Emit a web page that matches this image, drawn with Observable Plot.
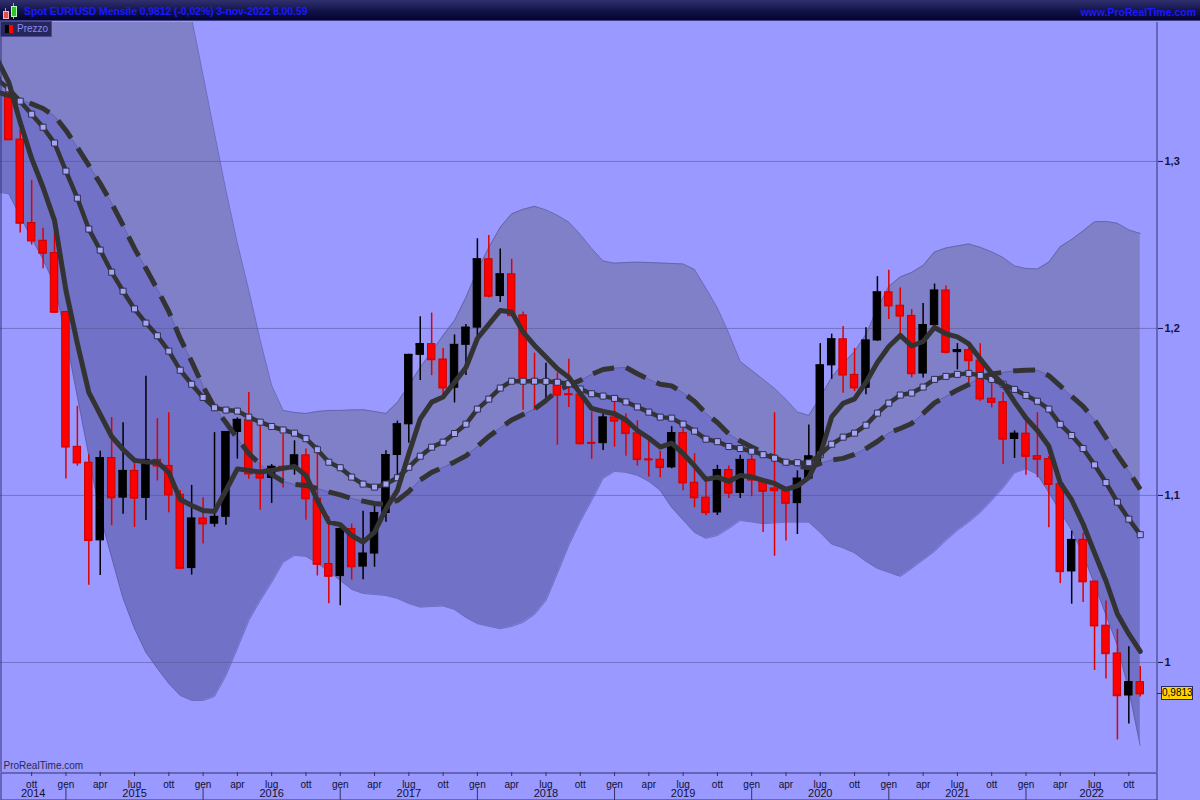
<!DOCTYPE html>
<html><head><meta charset="utf-8">
<script src="https://cdn.jsdelivr.net/npm/d3@7"></script>
<script src="https://cdn.jsdelivr.net/npm/@observablehq/plot@0.6"></script>
<style>
html,body{margin:0;padding:0;background:#9999ff;width:1200px;height:800px;overflow:hidden;font-family:"Liberation Sans",Arial,sans-serif}
#page{position:relative;width:1200px;height:800px}
#titlebar{position:absolute;left:0;top:0;width:1200px;height:20px;background:linear-gradient(#30306e,#12124a 55%,#03032a);border-bottom:1px solid #3c3c8c}
#title{position:absolute;left:24px;top:5px;font:bold 10.5px "Liberation Sans",Arial,sans-serif;color:#1a1aff;white-space:nowrap;letter-spacing:-0.1px}
#site{position:absolute;right:4px;top:6px;font:bold 10.5px "Liberation Sans",Arial,sans-serif;color:#1a1aff}
.ic{position:absolute}
#main{position:absolute;left:0;top:21px}
#axis{position:absolute;left:0;top:772px}
#legend{position:absolute;left:0;top:21px;width:52px;height:16px;background:#27275c;border:1px solid #4a4a92;box-sizing:border-box}
#legend span{position:absolute;left:16px;top:1px;font:10px "Liberation Sans",Arial,sans-serif;color:#8a8af2}
#price{position:absolute;left:1161px;width:30px;height:12px;background:#ffd400;border:1px solid #2a2a60;font:10px "Liberation Sans",Arial,sans-serif;color:#000;text-align:center;line-height:12px}
#ptick{position:absolute;left:1157px;width:4px;height:1px;background:#2a2a60}
svg g[aria-label^="y-axis"] text{font-weight:bold}
</style></head>
<body><div id="page">
<div id="titlebar">
  <div class="ic" style="left:5px;top:8px;width:1px;height:4px;background:#f08080"></div>
  <div class="ic" style="left:3px;top:11px;width:4px;height:6px;background:#e05050;border:1px solid #ffb0b0"></div>
  <div class="ic" style="left:13px;top:3px;width:1px;height:16px;background:#50e050"></div>
  <div class="ic" style="left:11px;top:6px;width:4px;height:9px;background:#30c030;border:1px solid #b0ffb0"></div>
  <div id="title"></div>
  <div id="site">www.ProRealTime.com</div>
</div>
<div id="main"></div>
<div id="axis"></div>
<div id="legend"><div class="ic" style="left:4px;top:3px;width:4px;height:8px;background:#000"></div><div class="ic" style="left:8px;top:3px;width:4px;height:8px;background:#ff0000"></div><span>Prezzo</span></div>
<div id="ptick"></div><div id="price"></div>
</div>
<script>
// ---- Data (monthly EUR/USD), candles from Aug 2014 to Nov 2022 ----
const titleText = "Spot EUR/USD Mensile 0,9812 (-0,02%) 3-nov-2022 8.00.59";
const monthNames = ["gen","feb","mar","apr","mag","giu","lug","ago","set","ott","nov","dic"];
const firstYear = 2014, firstMonth = 7; // Aug 2014
const yTicks = [1.0, 1.1, 1.2, 1.3];

const open = [1.3388,1.3131,1.2631,1.2525,1.2451,
 1.2098,1.1291,1.1196,1.0731,1.1224,1.0987,1.1147,1.0985,1.1213,1.1177,1.1004,1.0565,
 1.0862,1.0831,1.0872,1.1380,1.1453,1.1130,1.1105,1.1172,1.1157,1.1240,1.0981,1.0589,
 1.0517,1.0798,1.0574,1.0652,1.0895,1.1242,1.1426,1.1842,1.1906,1.1814,1.1645,1.1902,
 1.2005,1.2414,1.2194,1.2324,1.2078,1.1693,1.1684,1.1690,1.1606,1.1604,1.1315,1.1313,
 1.1467,1.1446,1.1372,1.1216,1.1214,1.1168,1.1373,1.1076,1.0987,1.0898,1.1152,1.1015,
 1.1213,1.1093,1.1042,1.1030,1.0954,1.1101,1.1234,1.1779,1.1935,1.1722,1.1645,1.1928,
 1.2216,1.2136,1.2075,1.1730,1.2020,1.2227,1.1858,1.1870,1.1808,1.1579,1.1558,1.1338,
 1.1370,1.1235,1.1218,1.1067,1.0545,1.0734,1.0484,1.0220,1.0054,0.9802,0.9882];
const high = [1.3444,1.3190,1.2887,1.2600,1.2570,
 1.2103,1.1534,1.1244,1.1265,1.1467,1.1436,1.1215,1.1714,1.1460,1.1495,1.1030,1.1060,
 1.0986,1.1376,1.1383,1.1464,1.1616,1.1428,1.1185,1.1366,1.1327,1.1278,1.1300,1.0874,
 1.0829,1.0829,1.0906,1.0955,1.1268,1.1445,1.1846,1.2070,1.2092,1.1880,1.1961,1.2023,
 1.2537,1.2556,1.2476,1.2414,1.2098,1.1852,1.1791,1.1734,1.1815,1.1625,1.1500,1.1486,
 1.1570,1.1489,1.1448,1.1324,1.1265,1.1412,1.1412,1.1250,1.1110,1.1180,1.1176,1.1240,
 1.1240,1.1096,1.1495,1.1039,1.1147,1.1422,1.1909,1.1966,1.2011,1.1881,1.2004,1.2310,
 1.2349,1.2243,1.2113,1.2150,1.2266,1.2254,1.1909,1.1909,1.1909,1.1692,1.1616,1.1386,
 1.1483,1.1495,1.1233,1.1076,1.0786,1.0773,1.0486,1.0368,1.0198,1.0094,0.9976];
const low = [1.3130,1.2571,1.2500,1.2358,1.2090,
 1.1098,1.1175,1.0462,1.0520,1.0819,1.0888,1.0809,1.0850,1.1087,1.0896,1.0558,1.0523,
 1.0710,1.0810,1.0822,1.1218,1.1097,1.0912,1.0952,1.1045,1.1122,1.0852,1.0518,1.0352,
 1.0340,1.0493,1.0495,1.0570,1.0840,1.1118,1.1313,1.1688,1.1717,1.1575,1.1554,1.1718,
 1.1916,1.2182,1.2155,1.2074,1.1510,1.1508,1.1575,1.1301,1.1526,1.1302,1.1216,1.1269,
 1.1289,1.1234,1.1176,1.1110,1.1106,1.1160,1.1028,1.0927,1.0879,1.0880,1.0981,1.0982,
 1.0992,1.0778,1.0636,1.0727,1.0766,1.1096,1.1186,1.1696,1.1612,1.1622,1.1603,1.1923,
 1.2054,1.1952,1.1704,1.1704,1.1986,1.1847,1.1752,1.1664,1.1563,1.1524,1.1186,1.1222,
 1.1121,1.1106,1.0806,1.0472,1.0349,1.0359,0.9952,0.9901,0.9536,0.9632,0.9793];
const close = [1.3131,1.2631,1.2525,1.2451,1.2098,
 1.1291,1.1196,1.0731,1.1224,1.0987,1.1147,1.0985,1.1213,1.1177,1.1004,1.0565,1.0862,
 1.0831,1.0872,1.1380,1.1453,1.1130,1.1105,1.1172,1.1157,1.1240,1.0981,1.0589,1.0517,
 1.0798,1.0574,1.0652,1.0895,1.1242,1.1426,1.1842,1.1906,1.1814,1.1645,1.1902,1.2005,
 1.2414,1.2194,1.2324,1.2078,1.1693,1.1684,1.1690,1.1602,1.1604,1.1311,1.1313,1.1467,
 1.1446,1.1372,1.1216,1.1214,1.1168,1.1373,1.1076,1.0987,1.0898,1.1152,1.1015,1.1213,
 1.1093,1.1026,1.1030,1.0954,1.1101,1.1234,1.1779,1.1935,1.1722,1.1645,1.1928,1.2216,
 1.2136,1.2075,1.1730,1.2020,1.2227,1.1858,1.1870,1.1808,1.1579,1.1558,1.1338,1.1370,
 1.1235,1.1218,1.1067,1.0545,1.0734,1.0484,1.0220,1.0054,0.9802,0.9882,0.9813];

// Indicator series, from Jul 2014 (one month before the first candle)
const maShort = [1.3610,1.3473,1.3234,1.3018,1.2844,1.2647,
 1.2228,1.1910,1.1617,1.1485,1.1353,1.1275,1.1210,1.1201,1.1199,1.1138,1.0976,1.0940,
 1.0910,1.0904,1.1030,1.1159,1.1150,1.1140,1.1150,1.1162,1.1174,1.1120,1.0970,1.0840,
 1.0825,1.0760,1.0720,1.0780,1.0920,1.1030,1.1250,1.1459,1.1559,1.1589,1.1677,1.1766,
 1.1940,1.2024,1.2108,1.2098,1.1978,1.1898,1.1829,1.1759,1.1708,1.1611,1.1521,1.1503,
 1.1489,1.1452,1.1389,1.1344,1.1290,1.1313,1.1251,1.1177,1.1096,1.1110,1.1084,1.1120,
 1.1111,1.1090,1.1072,1.1036,1.1057,1.1108,1.1246,1.1470,1.1551,1.1578,1.1677,1.1796,
 1.1892,1.1958,1.1895,1.1922,1.2006,1.1968,1.1949,1.1907,1.1817,1.1731,1.1665,1.1560,
 1.1464,1.1389,1.1295,1.1075,1.0973,1.0829,1.0656,1.0488,1.0290,1.0171,1.0066];
const maMid = [1.3490,1.3435,1.3361,1.3283,1.3205,1.3110,
 1.2942,1.2780,1.2595,1.2469,1.2337,1.2223,1.2117,1.2032,1.1956,1.1864,1.1750,1.1666,
 1.1587,1.1525,1.1511,1.1505,1.1469,1.1439,1.1413,1.1392,1.1373,1.1340,1.1274,1.1199,
 1.1166,1.1110,1.1068,1.1050,1.1068,1.1106,1.1169,1.1235,1.1289,1.1319,1.1371,1.1427,
 1.1517,1.1577,1.1643,1.1684,1.1684,1.1684,1.1683,1.1678,1.1669,1.1637,1.1609,1.1595,
 1.1581,1.1560,1.1530,1.1499,1.1469,1.1463,1.1427,1.1385,1.1337,1.1322,1.1293,1.1281,
 1.1265,1.1244,1.1223,1.1199,1.1196,1.1196,1.1244,1.1307,1.1349,1.1373,1.1421,1.1493,
 1.1553,1.1601,1.1613,1.1649,1.1695,1.1713,1.1725,1.1731,1.1719,1.1695,1.1666,1.1635,
 1.1599,1.1564,1.1517,1.1426,1.1359,1.1281,1.1183,1.1077,1.0960,1.0858,1.0765];
const ma20 = [1.3415,1.3395,1.3371,1.3345,1.3317,1.3272,
 1.3186,1.3084,1.2976,1.2868,1.2749,1.2617,1.2479,1.2359,1.2234,1.2102,1.1940,1.1802,
 1.1653,1.1527,1.1437,1.1341,1.1251,1.1186,1.1126,1.1084,1.1066,1.1060,1.1042,1.1021,
 1.1003,1.0982,1.0966,1.0952,1.0946,1.0970,1.1024,1.1093,1.1138,1.1168,1.1201,1.1237,
 1.1293,1.1353,1.1404,1.1452,1.1485,1.1518,1.1569,1.1629,1.1660,1.1689,1.1725,1.1754,
 1.1763,1.1766,1.1729,1.1695,1.1666,1.1656,1.1614,1.1563,1.1491,1.1437,1.1368,1.1326,
 1.1290,1.1257,1.1228,1.1195,1.1177,1.1166,1.1192,1.1213,1.1222,1.1246,1.1281,1.1323,
 1.1375,1.1401,1.1431,1.1491,1.1554,1.1593,1.1632,1.1665,1.1707,1.1728,1.1737,1.1746,
 1.1749,1.1751,1.1717,1.1656,1.1593,1.1533,1.1452,1.1347,1.1243,1.1144,1.1036];
const bbUpper = [1.3900,1.3980,1.4070,1.4150,1.4220,1.4280,
 1.4430,1.4580,1.4710,1.4860,1.4870,1.4850,1.4750,1.4660,1.4500,1.4330,1.4080,1.3856,
 1.3515,1.3168,1.2826,1.2509,1.2228,1.1928,1.1659,1.1509,1.1497,1.1491,1.1503,1.1509,
 1.1509,1.1512,1.1513,1.1503,1.1491,1.1557,1.1659,1.1766,1.1859,1.1958,1.2048,1.2186,
 1.2347,1.2485,1.2605,1.2686,1.2713,1.2731,1.2710,1.2677,1.2637,1.2563,1.2479,1.2404,
 1.2391,1.2395,1.2397,1.2395,1.2392,1.2389,1.2386,1.2353,1.2240,1.2123,1.1970,1.1802,
 1.1749,1.1695,1.1641,1.1575,1.1500,1.1479,1.1587,1.1707,1.1790,1.1862,1.1964,1.2120,
 1.2251,1.2308,1.2335,1.2377,1.2458,1.2482,1.2494,1.2506,1.2486,1.2458,1.2425,1.2374,
 1.2359,1.2356,1.2396,1.2489,1.2533,1.2584,1.2639,1.2641,1.2630,1.2590,1.2569];
const bbLower = [1.2815,1.2807,1.2671,1.2539,1.2413,1.2263,
 1.1946,1.1593,1.1240,1.0880,1.0629,1.0383,1.0204,1.0060,0.9964,0.9874,0.9802,0.9772,
 0.9772,0.9796,0.9922,1.0084,1.0251,1.0371,1.0479,1.0599,1.0641,1.0635,1.0593,1.0545,
 1.0491,1.0437,1.0413,1.0407,1.0401,1.0383,1.0353,1.0331,1.0335,1.0338,1.0317,1.0269,
 1.0232,1.0216,1.0202,1.0216,1.0240,1.0287,1.0371,1.0533,1.0701,1.0844,1.0970,1.1102,
 1.1144,1.1138,1.1120,1.1084,1.1030,1.0928,1.0853,1.0778,1.0743,1.0760,1.0802,1.0850,
 1.0841,1.0831,1.0835,1.0840,1.0840,1.0840,1.0778,1.0708,1.0686,1.0656,1.0605,1.0563,
 1.0539,1.0515,1.0563,1.0614,1.0665,1.0731,1.0790,1.0841,1.0898,1.0970,1.1045,1.1135,
 1.1160,1.1126,1.1016,1.0904,1.0790,1.0647,1.0467,1.0284,1.0102,0.9832,0.9503];

// ---- Build tables ----
const xDomain = [-0.726, 100.508];
const yDomain = [0.9341, 1.3832];
const candles = close.map((c, i) => ({i, o: open[i], h: high[i], l: low[i], c, down: c < open[i]}));
const ind = maShort.map((s, k) => ({i: k - 1, s, m: maMid[k], l: ma20[k], up: bbUpper[k], lo: bbLower[k]}));
const monthOf = i => (firstMonth + i) % 12;
const yearOf = i => firstYear + Math.floor((firstMonth + i) / 12);
const quarters = d3.range(close.length).filter(i => monthOf(i) % 3 === 0).map(i => ({i, label: monthNames[monthOf(i)]}));
const jans = quarters.filter(q => monthOf(q.i) === 0);
const years = d3.groups(d3.range(close.length), yearOf).map(([y, idx]) => {
  const start = monthOf(idx[0]) === 0 ? idx[0] : xDomain[0];
  const j = jans.find(q => q.i > idx[0]);
  const end = j ? j.i : xDomain[1];
  return {year: String(y), x: (start + end) / 2};
});

const comma = d => String(+d.toFixed(4)).replace(".", ",");
const font = '"Liberation Sans", Arial, sans-serif';
const dark = "#333333";

document.getElementById("title").textContent = titleText;

const main = Plot.plot({
  width: 1200, height: 751,
  marginTop: 1, marginBottom: 0, marginLeft: 0, marginRight: 43,
  x: {domain: xDomain, axis: null},
  y: {domain: yDomain, axis: "right", ticks: yTicks, tickFormat: comma, tickSize: 5, tickPadding: 2, label: null},
  style: {background: "transparent", fontFamily: font, fontSize: "11px", color: "#14143c", overflow: "visible"},
  marks: [
    Plot.areaY(ind, {x: "i", y1: "l", y2: "up", fill: "#8080c8", clip: true}),
    Plot.areaY(ind, {x: "i", y1: "lo", y2: "l", fill: "#7171c8", clip: true}),
    Plot.line(ind, {x: "i", y: "up", stroke: "#5a5aa4", strokeWidth: 1, strokeOpacity: 0.7, clip: true}),
    Plot.line(ind, {x: "i", y: "lo", stroke: "#5a5aa4", strokeWidth: 1, strokeOpacity: 0.7, clip: true}),
    Plot.line(ind, {x: "i", y: "l", stroke: "#5a5aa4", strokeWidth: 1, strokeOpacity: 0.8, clip: true}),
    Plot.ruleY(yTicks, {stroke: "#555590", strokeOpacity: 0.55}),
    Plot.ruleX(candles, {x: "i", y1: "l", y2: "h", stroke: d => d.down ? "#e00000" : "#000000", strokeWidth: 1.5}),
    Plot.rect(candles, {x1: d => d.i - 0.5, x2: d => d.i + 0.5, y1: d => Math.min(d.o, d.c), y2: d => Math.max(d.o, d.c),
      insetLeft: 2, insetRight: 2, fill: d => d.down ? "#ff0000" : "#000000", stroke: d => d.down ? "#c80000" : "#000000", strokeWidth: 1}),
    Plot.ruleY(candles, {y: "c", x1: d => d.i - 0.36, x2: d => d.i + 0.36, stroke: d => d.down ? "#e00000" : "#000000", strokeWidth: 1.5}),
    Plot.line(ind, {x: "i", y: "l", stroke: dark, strokeWidth: 5, strokeDasharray: "22,12", strokeLinecap: "butt", clip: true}),
    Plot.line(ind, {x: "i", y: "m", stroke: dark, strokeWidth: 4.5, clip: true}),
    Plot.dot(ind, {x: "i", y: "m", symbol: "square", r: 3.4, fill: "#a4a4f2", stroke: "#2e2e4e", strokeWidth: 1, clip: true}),
    Plot.line(ind, {x: "i", y: "s", stroke: dark, strokeWidth: 5, clip: true}),
    Plot.ruleX([xDomain[0]], {stroke: "#333377", dx: 0.5}),
    Plot.ruleX([xDomain[1]], {stroke: "#333377", dx: -0.5}),
    Plot.text(["ProRealTime.com"], {frameAnchor: "bottom-left", textAnchor: "start", dx: 3, dy: -4, fill: "#2a2a50", fontSize: 10})
  ]
});
document.getElementById("main").appendChild(main);

const axis = Plot.plot({
  width: 1200, height: 28,
  marginTop: 0, marginBottom: 0, marginLeft: 0, marginRight: 43,
  x: {domain: xDomain, axis: null},
  style: {background: "transparent", fontFamily: font, fontSize: "10px", color: "#111133", overflow: "visible"},
  marks: [
    Plot.frame({stroke: "#333377", inset: 0.5}),
    Plot.ruleX(quarters, {x: "i", insetBottom: 24, stroke: "#333366"}),
    Plot.text(quarters, {x: "i", text: "label", frameAnchor: "top", dy: 8, fill: "#111133"}),
    Plot.ruleX(jans, {x: "i", insetTop: 16, stroke: "#333366"}),
    Plot.text(years, {x: "x", text: "year", frameAnchor: "top", dy: 17, fill: "#111133", fontSize: 11})
  ]
});
document.getElementById("axis").appendChild(axis);

// last price tag on the right axis
const last = close[close.length - 1];
const py = 21 + main.scale("y").apply(last);
const price = document.getElementById("price");
price.textContent = last.toFixed(4).replace(".", ",");
price.style.top = (py - 7) + "px";
document.getElementById("ptick").style.top = Math.round(py) + "px";
</script>
</body></html>
